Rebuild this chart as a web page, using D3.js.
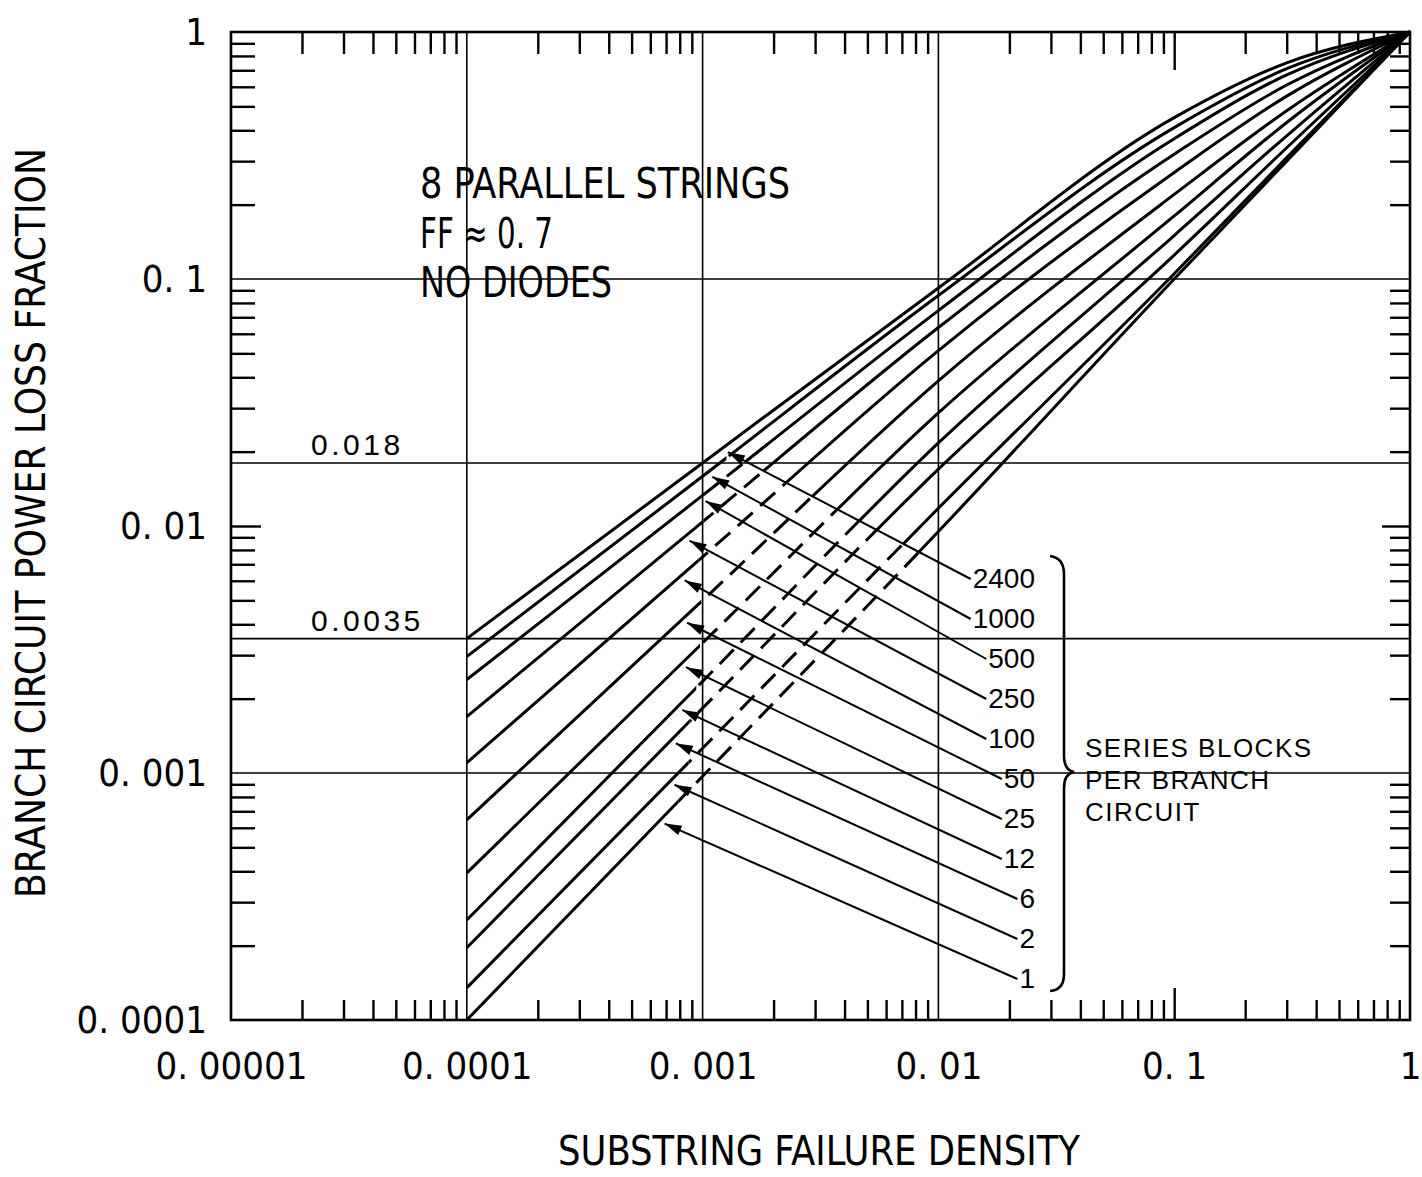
<!DOCTYPE html>
<html>
<head>
<meta charset="utf-8">
<script src="https://cdn.jsdelivr.net/npm/d3@7"></script>
<style>
  body { margin: 0; background: #fff; }
  svg { display: block; }
  .cond { font-family: "DejaVu Sans Condensed", "Liberation Sans Narrow", "DejaVu Sans", sans-serif; font-stretch: condensed; }
  .helv { font-family: "Liberation Sans", Arial, sans-serif; }
</style>
</head>
<body>
<svg id="chart" width="1422" height="1177"></svg>
<script>
// substring failure density where values were read
var failureDensity = [0.0001, 0.001, 0.01, 0.1, 0.3, 1];
var seriesBlocks = ["2400", "1000", "500", "250", "100", "50", "25", "12", "6", "2", "1"];
var loss2400 = [0.0035, 0.018, 0.092, 0.45, 0.75, 1];
var loss1000 = [0.00296, 0.0159, 0.0857, 0.41, 0.71, 1];
var loss500 = [0.00239, 0.0133, 0.0745, 0.37, 0.67, 1];
var loss250 = [0.00169, 0.0104, 0.0636, 0.32, 0.61, 1];
var loss100 = [0.0011, 0.0075, 0.0513, 0.27, 0.55, 1];
var loss50 = [0.000646, 0.0050, 0.0387, 0.22, 0.48, 1];
var loss25 = [0.000394, 0.00336, 0.0287, 0.18, 0.43, 1];
var loss12 = [0.000254, 0.00235, 0.0217, 0.15, 0.38, 1];
var loss6 = [0.000196, 0.00183, 0.017, 0.125, 0.34, 1];
var loss2 = [0.000135, 0.00126, 0.0118, 0.105, 0.31, 1];
var loss1 = [0.0001, 0.00097, 0.0095, 0.1, 0.3, 1];
var lossSeries = [loss2400, loss1000, loss500, loss250, loss100, loss50, loss25, loss12, loss6, loss2, loss1];
// where each label arrow touches its curve
var arrowTipDensity = [0.00128, 0.0011, 0.00103, 0.00088, 0.00084, 0.00086, 0.00085, 0.00082, 0.00077, 0.00076, 0.00069];

var xTickValues = [1e-5, 1e-4, 1e-3, 1e-2, 1e-1, 1];
var xTickLabels = ["0. 00001", "0. 0001", "0. 001", "0. 01", "0. 1", "1"];
var yTickValues = [1e-4, 1e-3, 1e-2, 1e-1, 1];
var yTickLabels = ["0. 0001", "0. 001", "0. 01", "0. 1", "1"];
var xGridValues = [1e-4, 1e-3, 1e-2];
var yGridValues = [0.1, 0.018, 0.0035, 0.001];
var refLabels = [{ v: 0.018, t: "0.018" }, { v: 0.0035, t: "0.0035" }];

var svg = d3.select("#chart");
var pL = 231, pR = 1410, pT = 32, pB = 1020;
var x = d3.scaleLog().domain([1e-5, 1]).range([pL, pR]);
var y = d3.scaleLog().domain([1e-4, 1]).range([pB, pT]);

function minors(d0, d1) {
  var out = [];
  for (var d = d0; d < d1 * 0.999; d *= 10)
    for (var k = 2; k <= 9; k++) out.push(k * d);
  return out;
}

// grid
svg.append("g").selectAll("line").data(xGridValues).enter().append("line")
  .attr("x1", function (d) { return x(d); }).attr("x2", function (d) { return x(d); })
  .attr("y1", pT).attr("y2", pB)
  .attr("stroke", "#000").attr("stroke-width", 1.6);
svg.append("g").selectAll("line").data(yGridValues).enter().append("line")
  .attr("x1", pL).attr("x2", pR)
  .attr("y1", function (d) { return y(d); }).attr("y2", function (d) { return y(d); })
  .attr("stroke", "#000").attr("stroke-width", 1.6);

// inward ticks
function tickAxis(axis, tr, vals, size) {
  var g = svg.append("g").attr("transform", tr)
    .call(axis.tickValues(vals).tickSize(size).tickFormat(""));
  g.select(".domain").remove();
  g.selectAll(".tick line").attr("stroke", "#000").attr("stroke-width", 2.4);
}
tickAxis(d3.axisTop(x), "translate(0," + pT + ")", minors(1e-5, 1), -22);
tickAxis(d3.axisTop(x), "translate(0," + pT + ")", [0.1], -38);
tickAxis(d3.axisBottom(x), "translate(0," + pB + ")", minors(1e-5, 1), -20);
tickAxis(d3.axisBottom(x), "translate(0," + pB + ")", [0.1], -32);
tickAxis(d3.axisLeft(y), "translate(" + pL + ",0)", minors(1e-4, 1), -24);
tickAxis(d3.axisLeft(y), "translate(" + pL + ",0)", [0.01], -30);
tickAxis(d3.axisRight(y), "translate(" + pR + ",0)", minors(1e-4, 1), -20);
tickAxis(d3.axisRight(y), "translate(" + pR + ",0)", [0.01], -28);

svg.append("rect").attr("x", pL).attr("y", pT)
  .attr("width", pR - pL).attr("height", pB - pT)
  .attr("fill", "none").attr("stroke", "#000").attr("stroke-width", 2.6);

// tick labels
var xl = svg.append("g").attr("transform", "translate(0," + pB + ")")
  .call(d3.axisBottom(x).tickValues(xTickValues).tickSize(0).tickPadding(32)
    .tickFormat(function (d, i) { return xTickLabels[i]; }));
xl.select(".domain").remove();
xl.selectAll("text").attr("class", "cond").attr("font-size", 38).attr("fill", "#000");

var yl = svg.append("g").attr("transform", "translate(" + (pL - 24) + ",0)")
  .call(d3.axisLeft(y).tickValues(yTickValues).tickSize(0).tickPadding(0)
    .tickFormat(function (d, i) { return yTickLabels[i]; }));
yl.select(".domain").remove();
yl.selectAll("text").attr("class", "cond").attr("font-size", 38).attr("fill", "#000");

// titles
svg.append("text").attr("class", "cond")
  .attr("transform", "translate(45,523) rotate(-90)")
  .attr("text-anchor", "middle").attr("font-size", 40)
  .attr("textLength", 750).attr("lengthAdjust", "spacingAndGlyphs")
  .text("BRANCH CIRCUIT POWER LOSS FRACTION");
svg.append("text").attr("class", "cond")
  .attr("x", 819).attr("y", 1165)
  .attr("text-anchor", "middle").attr("font-size", 40)
  .attr("textLength", 522).attr("lengthAdjust", "spacingAndGlyphs")
  .text("SUBSTRING FAILURE DENSITY");

// annotation block
var note = [["8 PARALLEL STRINGS", 198, 370], ["FF \u2248 0. 7", 248, 133], ["NO DIODES", 297, 192]];
svg.append("g").selectAll("text").data(note).enter().append("text")
  .attr("class", "cond").attr("x", 420).attr("y", function (d) { return d[1]; })
  .attr("font-size", 42)
  .attr("textLength", function (d) { return d[2]; }).attr("lengthAdjust", "spacingAndGlyphs")
  .text(function (d) { return d[0]; });

svg.append("g").selectAll("text").data(refLabels).enter().append("text")
  .attr("class", "helv").attr("x", 311).attr("y", function (d) { return y(d.v) - 8; })
  .attr("font-size", 30).attr("letter-spacing", 3.5)
  .text(function (d) { return d.t; });

// curves
function lossAt(vals, d) {
  for (var j = 0; j < failureDensity.length - 1; j++) {
    var a = failureDensity[j], b = failureDensity[j + 1];
    if (d >= a && d <= b) {
      var t = (Math.log(d) - Math.log(a)) / (Math.log(b) - Math.log(a));
      return Math.exp(Math.log(vals[j]) + t * (Math.log(vals[j + 1]) - Math.log(vals[j])));
    }
  }
  return vals[vals.length - 1];
}

var line = d3.line()
  .x(function (d) { return x(d[0]); })
  .y(function (d) { return y(d[1]); })
  .curve(d3.curveMonotoneX);

var labelRight = 1035;
var labels = svg.append("g").selectAll("text").data(seriesBlocks).enter().append("text")
  .attr("class", "helv").attr("x", labelRight)
  .attr("y", function (d, i) { return 588 + 40 * i; })
  .attr("text-anchor", "end").attr("font-size", 28)
  .text(function (d) { return d; });

var tips = arrowTipDensity.map(function (d, i) {
  return [x(d), y(lossAt(lossSeries[i], d)) + 8];
});
var ends = [];
labels.each(function (d, i) {
  var b = this.getBBox();
  ends.push([b.x - 2, 588 + 40 * i - 9]);
});

// the 2400 leader splits dashed part from solid part
var m = (ends[0][1] - tips[0][1]) / (ends[0][0] - tips[0][0]);
function leaderY(px) { return tips[0][1] + m * (px - tips[0][0]); }

var defs = svg.append("defs");
var curves = svg.append("g");
lossSeries.forEach(function (vals, i) {
  var pts = failureDensity.map(function (d, j) { return [d, vals[j]]; });
  var path = line(pts);
  if (i === 0) {
    curves.append("path").attr("d", path).attr("fill", "none")
      .attr("stroke", "#000").attr("stroke-width", 3);
    return;
  }
  var sx = tips[i][0] + 14;
  var farX = 1500;
  defs.append("clipPath").attr("id", "ca" + i).append("rect")
    .attr("x", 0).attr("y", 0).attr("width", sx).attr("height", 1177);
  defs.append("clipPath").attr("id", "cd" + i).append("polygon")
    .attr("points", [[sx, leaderY(sx)], [farX, leaderY(farX)], [farX, 1300], [sx, 1300]].join(" "));
  defs.append("clipPath").attr("id", "cb" + i).append("polygon")
    .attr("points", [[sx, leaderY(sx)], [farX, leaderY(farX)], [farX, -100], [sx, -100]].join(" "));
  curves.append("path").attr("d", path).attr("fill", "none")
    .attr("stroke", "#000").attr("stroke-width", 3).attr("clip-path", "url(#ca" + i + ")");
  curves.append("path").attr("d", path).attr("fill", "none")
    .attr("stroke", "#000").attr("stroke-width", 3).attr("stroke-dasharray", "20,10")
    .attr("clip-path", "url(#cd" + i + ")");
  curves.append("path").attr("d", path).attr("fill", "none")
    .attr("stroke", "#000").attr("stroke-width", 3).attr("clip-path", "url(#cb" + i + ")");
});

// leader lines with arrowheads
var leaders = svg.append("g");
tips.forEach(function (t, i) {
  var e = ends[i];
  leaders.append("line").attr("x1", t[0]).attr("y1", t[1]).attr("x2", e[0]).attr("y2", e[1])
    .attr("stroke", "#000").attr("stroke-width", 2);
  var ang = Math.atan2(e[1] - t[1], e[0] - t[0]);
  var L = 17, W = 5;
  var bx = t[0] + L * Math.cos(ang), by = t[1] + L * Math.sin(ang);
  var nx = -Math.sin(ang) * W, ny = Math.cos(ang) * W;
  leaders.append("polygon")
    .attr("points", [[t[0], t[1]], [bx + nx, by + ny], [bx - nx, by - ny]].join(" "))
    .attr("fill", "#000");
});

// brace
svg.append("path")
  .attr("d", "M1050,556 Q1064,558 1064,574 L1064,756 Q1064,770 1074,772 Q1064,774 1064,788 L1064,974 Q1064,990 1050,991")
  .attr("fill", "none").attr("stroke", "#000").attr("stroke-width", 2.6);

var side = ["SERIES BLOCKS", "PER BRANCH", "CIRCUIT"];
svg.append("g").selectAll("text").data(side).enter().append("text")
  .attr("class", "helv").attr("x", 1085)
  .attr("y", function (d, i) { return 757 + 32 * i; })
  .attr("font-size", 26).attr("letter-spacing", 1.5)
  .text(function (d) { return d; });
</script>
</body>
</html>
